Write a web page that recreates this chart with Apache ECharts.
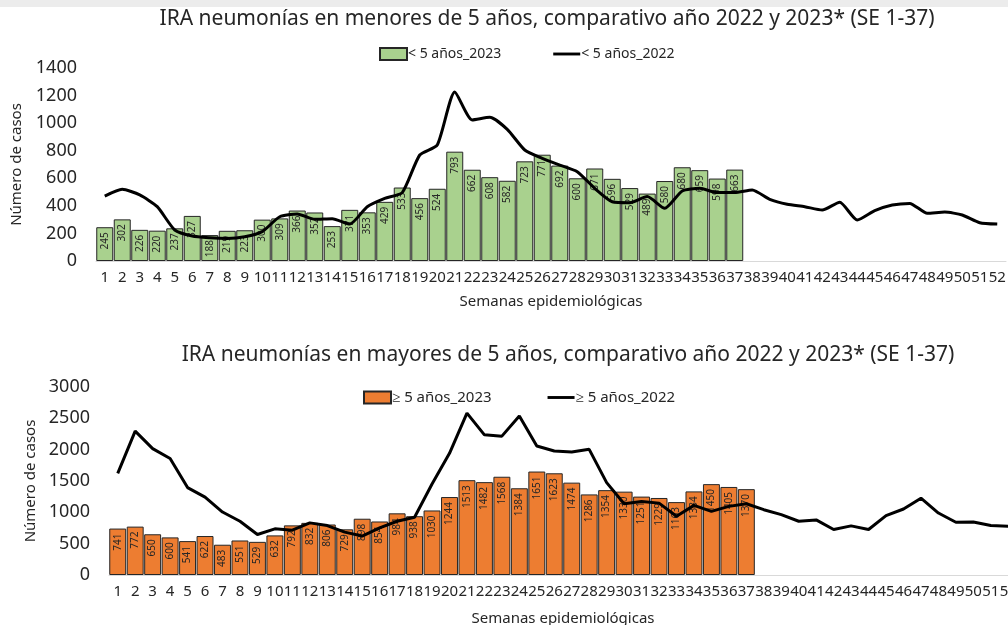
<!DOCTYPE html>
<html>
<head>
<meta charset="utf-8">
<script src="https://cdn.jsdelivr.net/npm/echarts@6/dist/echarts.min.js"></script>
<style>
html,body{margin:0;padding:0;background:#fff;}
#c{width:1008px;height:625px;}
</style>
</head>
<body>
<div id="c"></div>
<script>
const weeks = ['1','2','3','4','5','6','7','8','9','10','11','12','13','14','15','16','17','18','19','20','21','22','23','24','25','26','27','28','29','30','31','32','33','34','35','36','37','38','39','40','41','42','43','44','45','46','47','48','49','50','51','52'];

const under5_2023 = [245,302,226,220,237,327,188,219,223,300,309,366,352,253,371,353,429,533,456,524,793,662,608,582,723,771,692,600,671,596,529,489,580,680,659,598,663];
const under5_2022 = [471,520,479,394,225,181,169,164,176,213,321,341,302,307,268,394,455,496,769,841,1226,1023,1042,955,805,745,696,648,527,430,423,467,382,508,527,496,496,515,447,411,394,370,426,297,365,406,418,346,355,334,278,268];

const over5_2023 = [741,772,650,600,541,622,483,551,529,632,792,832,806,729,898,854,984,938,1030,1244,1513,1482,1568,1384,1651,1623,1474,1286,1354,1330,1251,1229,1163,1334,1450,1405,1370];
const over5_2022 = [1621,2295,2016,1858,1395,1242,1005,858,647,737,716,832,789,684,621,753,858,921,1453,1942,2584,2237,2216,2537,2058,1979,1963,2005,1474,1137,1174,1147,937,1111,1016,1095,1137,1042,963,858,879,726,784,726,947,1053,1226,989,842,847,789,779];

const titleTop = 'IRA neumonías en menores de 5 años, comparativo año 2022 y 2023* (SE 1-37)';
const titleBottom = 'IRA neumonías en mayores de 5 años, comparativo año 2022 y 2023* (SE 1-37)';
const xName = 'Semanas epidemiológicas';
const yName = 'Número de casos';

const FONT = 'Noto Sans';
const TXT = '#262626';
const LINE_ICON = 'path://M0,0 L28,0 L28,3 L0,3 Z';

const chart = echarts.init(document.getElementById('c'), null, {renderer: 'canvas'});

function xAxis(gridIndex, nameGap) {
  return {
    type: 'category', gridIndex, data: weeks,
    axisTick: {show: false},
    axisLine: {lineStyle: {color: '#d9d9d9', width: 1}},
    axisLabel: {interval: 0, fontFamily: FONT, fontSize: 15, color: TXT, margin: 9},
    name: xName, nameLocation: 'middle', nameGap: nameGap,
    nameTextStyle: {fontFamily: FONT, fontSize: 15, color: TXT}
  };
}
function yAxis(gridIndex, max, interval, nameGap) {
  return {
    type: 'value', gridIndex, min: 0, max, interval,
    splitLine: {show: false},
    axisLine: {show: false}, axisTick: {show: false},
    axisLabel: {fontFamily: FONT, fontSize: 18, color: TXT, margin: 19, formatter: v => String(v)},
    name: yName, nameLocation: 'middle', nameGap: nameGap, nameRotate: 90,
    nameTextStyle: {fontFamily: FONT, fontSize: 15, color: TXT}
  };
}
const barLabel = {
  show: true, position: 'insideTop', distance: 5, rotate: 90,
  align: 'right', verticalAlign: 'middle',
  fontFamily: FONT, fontSize: 10, color: TXT
};

chart.setOption({
  animation: false,
  backgroundColor: '#fff',
  graphic: [
    {type: 'rect', shape: {x: 0, y: 0, width: 1008, height: 7}, style: {fill: '#ececec'}, silent: true},
    {type: 'text', x: 547, y: 19, style: {text: titleTop, textAlign: 'center', textVerticalAlign: 'middle', font: '21px "Noto Sans"', fill: TXT}},
    {type: 'text', x: 568, y: 355, style: {text: titleBottom, textAlign: 'center', textVerticalAlign: 'middle', font: '21px "Noto Sans"', fill: TXT}}
  ],
  legend: [
    {data: [{name: '< 5 años_2023', icon: 'rect'}, {name: '< 5 años_2022', icon: LINE_ICON}],
     left: 374, top: 42, itemGap: 52, itemWidth: 27, itemHeight: 12,
     textStyle: {fontFamily: FONT, fontSize: 14, color: TXT, padding: [0,0,0,-4]}},
    {data: [{name: '≥ 5 años_2023', icon: 'rect'}, {name: '≥ 5 años_2022', icon: LINE_ICON}],
     left: 358, top: 385, itemGap: 56, itemWidth: 27, itemHeight: 12,
     textStyle: {fontFamily: FONT, fontSize: 15, color: TXT, padding: [0,0,0,-4]}}
  ],
  grid: [
    {left: 96, right: 2, top: 68, bottom: 364, containLabel: false, outerBoundsMode: 'none'},
    {left: 109, right: -9, top: 387, bottom: 50, containLabel: false, outerBoundsMode: 'none'}
  ],
  xAxis: [xAxis(0, 33), xAxis(1, 36)],
  yAxis: [yAxis(0, 1400, 200, 72), yAxis(1, 3000, 500, 62)],
  series: [
    {name: '< 5 años_2023', type: 'bar', xAxisIndex: 0, yAxisIndex: 0, data: under5_2023,
     barCategoryGap: '3%', itemStyle: {color: '#A9D18E', borderColor: '#262626', borderWidth: 1},
     label: barLabel, z: 2},
    {name: '< 5 años_2022', type: 'line', xAxisIndex: 0, yAxisIndex: 0, data: under5_2022,
     symbol: 'none', smooth: 0.2, lineStyle: {color: '#000', width: 3}, itemStyle: {color: '#000'}, z: 5},
    {name: '≥ 5 años_2023', type: 'bar', xAxisIndex: 1, yAxisIndex: 1, data: over5_2023,
     barCategoryGap: '3%', itemStyle: {color: '#ED7D31', borderColor: '#262626', borderWidth: 1},
     label: barLabel, z: 2},
    {name: '≥ 5 años_2022', type: 'line', xAxisIndex: 1, yAxisIndex: 1, data: over5_2022,
     symbol: 'none', smooth: false, lineStyle: {color: '#000', width: 3}, itemStyle: {color: '#000'}, z: 5}
  ]
});
</script>
</body>
</html>
